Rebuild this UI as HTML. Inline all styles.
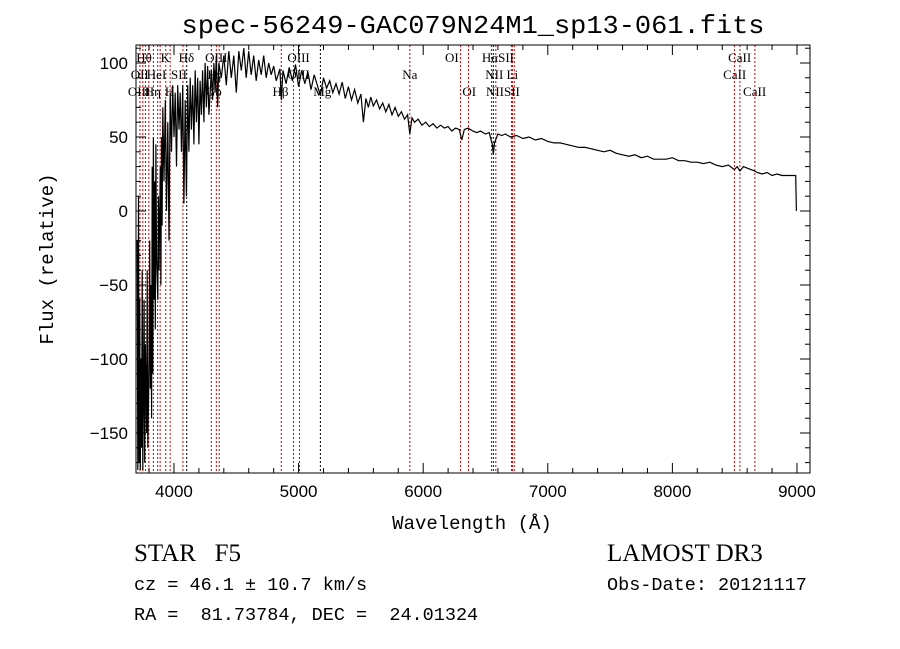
<!DOCTYPE html>
<html><head><meta charset="utf-8"><style>
body{margin:0;background:#fff;width:900px;height:649px;overflow:hidden}
svg{display:block}
text{white-space:pre}
</style></head><body>
<svg id="chart" width="900" height="649" xml:space="preserve">
<rect width="900" height="649" fill="#fff"/>
<text x="473" y="33" text-anchor="middle" font-family="Liberation Mono, monospace" font-size="26" textLength="583" lengthAdjust="spacingAndGlyphs">spec-56249-GAC079N24M1_sp13-061.fits</text>
<g id="lines"></g>
<g id="labels" font-family="Liberation Serif, serif" font-size="13"></g>
<path id="spec" fill="none" stroke="#000" stroke-width="1.2"/>
<rect x="136" y="45" width="674" height="428" fill="none" stroke="#000"/>
<g id="axes" font-family="Liberation Sans, sans-serif" font-size="17"></g>
<text x="472" y="529" text-anchor="middle" font-family="Liberation Mono, monospace" font-size="19">Wavelength (Å)</text>
<text transform="translate(53,259) rotate(-90)" text-anchor="middle" font-family="Liberation Mono, monospace" font-size="19">Flux (relative)</text>
<text x="134" y="561" font-family="Liberation Serif, serif" font-size="25">STAR   F5</text>
<text x="134" y="590" font-family="Liberation Mono, monospace" font-size="18.5">cz = 46.1 ± 10.7 km/s</text>
<text x="134" y="620" font-family="Liberation Mono, monospace" font-size="18.5">RA =  81.73784, DEC =  24.01324</text>
<text x="607" y="561" font-family="Liberation Serif, serif" font-size="25">LAMOST DR3</text>
<text x="607" y="590" font-family="Liberation Mono, monospace" font-size="18.5">Obs-Date: 20121117</text>
</svg>
<script>
const wave=[3705,3710,3715,3720,3725,3730,3735,3740,3745,3750,3755,3760,3765,3770,3780,3785,3790,3800,3805,3810,3815,3820,3825,3830,3835,3840,3845,3850,3855,3860,3870,3875,3880,3890,3895,3900,3905,3910,3920,3930,3940,3950,3960,3970,3980,3990,4000,4010,4020,4030,4040,4050,4060,4070,4080,4090,4100,4110,4120,4130,4140,4150,4160,4170,4180,4190,4200,4210,4220,4230,4240,4250,4260,4270,4280,4300,4310,4320,4330,4340,4350,4360,4380,4400,4420,4440,4460,4480,4500,4520,4540,4560,4580,4600,4620,4640,4660,4680,4700,4720,4740,4760,4780,4800,4820,
4850,4861,4875,4900,4925,4950,4975,5000,5025,5050,5075,5100,5125,5150,5175,5200,5225,5250,5275,5300,5325,5350,5375,5400,5425,5450,5475,5500,5520,5540,5560,5580,5600,5625,5650,5675,5700,5725,5750,5775,5800,5825,5850,5875,5893,5910,5930,5960,5990,6020,6050,6080,6110,6140,6170,6200,6230,6260,6290,6310,6330,6360,6400,6430,6460,6500,6530,6555,6563,6572,6600,6630,6660,6700,6750,6800,6850,6900,6950,7000,7050,7100,7150,7200,7250,7300,7350,7400,7450,7500,7550,7600,7650,7700,7750,7800,7850,7900,7950,8000,8050,8100,8150,8200,8250,8300,8350,8400,8450,8498,8520,8542,8570,8600,8630,8662,8680,8720,8760,8800,8840,8880,8920,8960,8990,8995];
const flux=[-20,-175,10,-170,-60,-175,-100,-160,-40,-175,-120,-60,-170,-90,-150,-40,-160,-100,-20,-120,-50,-140,30,-110,50,-60,20,-80,45,-30,-60,10,-40,30,-50,50,-10,70,20,75,0,60,-20,80,40,85,50,80,30,85,55,80,40,85,5,75,10,85,40,90,55,85,45,95,60,90,45,88,65,95,60,100,70,98,65,95,75,100,80,105,70,100,90,105,85,108,90,105,80,108,95,110,90,108,92,105,88,102,92,105,90,100,92,98,88,
96,75,95,86,97,88,99,84,95,86,94,82,92,85,78,90,83,88,80,86,79,87,76,84,75,82,73,79,60,76,70,77,71,75,69,73,67,72,65,70,64,67,62,65,52,63,60,62,58,60,57,59,56,58,56,57,54,56,55,48,55,56,54,53,54,52,53,45,38,46,52,51,52,50,51,49,50,48,49,47,46,46,45,44,43,43,42,41,40,41,39,38,37,38,36,37,35,35,35,36,34,34,33,33,32,33,31,30,31,28,30,27,30,29,28,27,26,25,26,24,25,24,24,24,24,0];
const lineWaves=[3727,3750,3771,3798,3835,3869,3889,3934,3969,4072,4102,4300,4340,4363,4861,4959,5007,5175,5893,6300,6364,6548,6563,6583,6708,6716,6731,8498,8542,8662];
const labelText=["Hθ","K","Hδ","OIII","OIII","OI","HαSII","CaII","OII","HeI","SII","Hγ","OIII","Na","NII Li","CaII","OIII","Hη","H","Gb","Hβ","Mg","OI","NIISII","CaII"];
const labelWave=[3760,3930,4100,4340,5000,6230,6600,8540,3725,3860,4040,4330,5000,5893,6630,8500,3720,3830,3965,4320,4855,5190,6370,6640,8660];
const labelRow=[0,0,0,0,0,0,0,0,1,1,1,1,1,1,1,1,2,2,2,2,2,2,2,2,2];
const xTicks=[4000,5000,6000,7000,8000,9000];
const yTicks=[-150,-100,-50,0,50,100];
const X=w=>136.6+(w-3700)*0.1246;
const Y=f=>211-f*1.48;
const NS='http://www.w3.org/2000/svg';
function mk(t,a,p){const e=document.createElementNS(NS,t);for(const k in a)e.setAttribute(k,a[k]);p.appendChild(e);return e;}
let d='';wave.forEach((w,i)=>{d+=(i?'L':'M')+X(w).toFixed(1)+','+Math.max(45,Math.min(473,Y(flux[i]))).toFixed(1);});
document.getElementById('spec').setAttribute('d',d);
const lg=document.getElementById('lines');
lineWaves.forEach((w,i)=>{const l=mk('line',{x1:X(w),x2:X(w),y1:45,y2:473,stroke:(w===6563||w===5175||w===4102)?'#000':'#c00','stroke-width':1,'stroke-dasharray':'2,2'},lg);

});
const lb=document.getElementById('labels');
labelText.forEach((t,i)=>{const e=mk('text',{x:X(labelWave[i]),y:62+labelRow[i]*17,'text-anchor':'middle'},lb);e.textContent=t;

});
const ax=document.getElementById('axes');
for(let w=3800;w<=9100;w+=200){const big=w%1000===0;const x=X(w);
mk('line',{x1:x,x2:x,y1:473,y2:473-(big?10:5),stroke:'#000'},ax);mk('line',{x1:x,x2:x,y1:45,y2:45+(big?10:5),stroke:'#000'},ax);}
for(let f=-170;f<=110;f+=10){const big=f%50===0;const y=Y(f);
mk('line',{x1:136,x2:136+(big?10:5),y1:y,y2:y,stroke:'#000'},ax);mk('line',{x1:810,x2:810-(big?10:5),y1:y,y2:y,stroke:'#000'},ax);}
xTicks.forEach(v=>{const e=mk('text',{x:X(v),y:497,'text-anchor':'middle'},ax);e.textContent=v;

});
yTicks.forEach(v=>{const e=mk('text',{x:128,y:Y(v)+6,'text-anchor':'end'},ax);e.textContent=v<0?'−'+(-v):v;

});
</script>
</body></html>
